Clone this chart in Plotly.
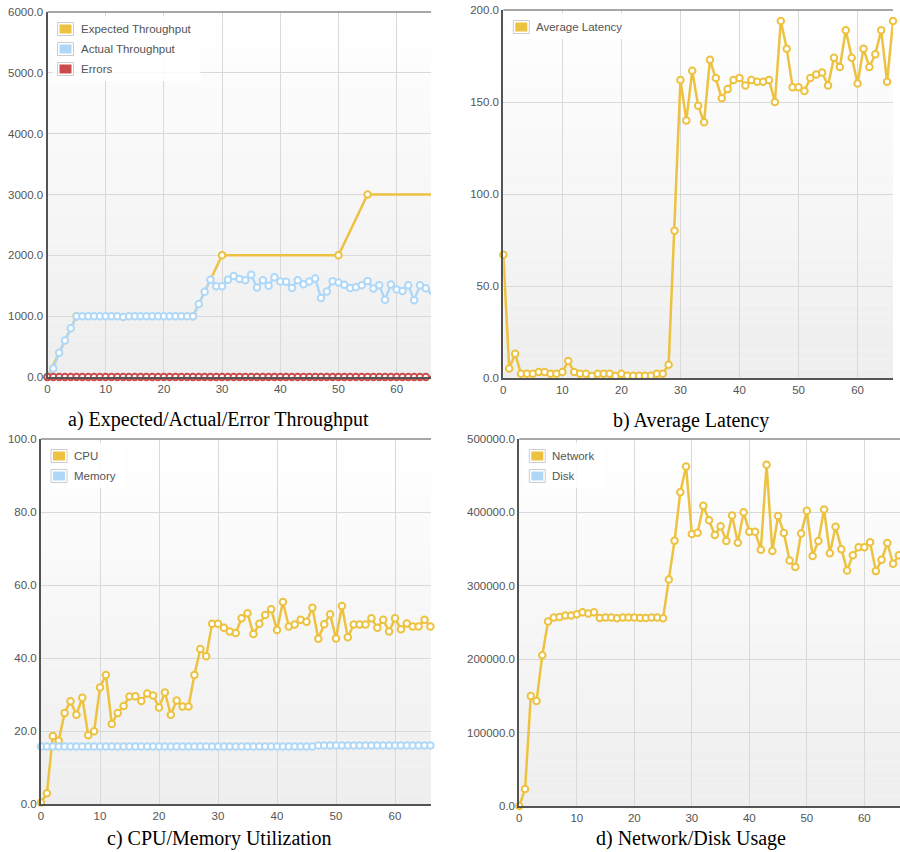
import plotly.graph_objects as go

W, H = 900, 852

# ---------------- data ----------------
t = list(range(67))

exp_x = [0, 5, 25, 30, 50, 55, 66]
exp_y = [0, 1000, 1000, 2000, 2000, 3000, 3000]

actual = [0, 140, 400, 600, 800, 1000,
          1000, 1000, 1000, 1000, 1000, 1000, 1000, 985, 1000, 1000,
          1000, 1000, 1000, 1000, 1000, 1000, 1000, 1000, 1000, 1000,
          1200, 1400, 1600, 1490, 1490, 1600, 1660, 1610, 1590, 1680,
          1470, 1590, 1500, 1640, 1570, 1565, 1465, 1590, 1525, 1570,
          1620, 1300, 1405, 1575, 1555, 1515, 1465, 1475, 1510, 1580,
          1455, 1510, 1270, 1520, 1440, 1415, 1510, 1260, 1510, 1460,
          1360]

errors = [0, 0, 0, 0, 0, 0, 0, 0, 0, 0, 0, 0, 0, 0, 0, 0, 0, 0, 0, 0,
          0, 0, 0, 0, 0, 0, 0, 0, 0, 0, 0, 0, 0, 0, 0, 0, 0, 0, 0, 0,
          0, 0, 0, 0, 0, 0, 0, 0, 0, 0, 0, 0, 0, 0, 0, 0, 0, 0, 0, 0,
          0, 0, 0, 0, 0, 0, 0]

latency = [67, 5.2, 13.2, 2.3, 2.3, 2.3, 3.2, 3.2, 2.3, 2.3,
           3.2, 9.2, 3.2, 2.3, 2.3, 1.1, 2.3, 2.3, 2.3, 1.1,
           2.3, 1.2, 1.2, 1.2, 1.2, 1.2, 2.3, 2.3, 7.2, 80,
           162, 140, 167, 148, 139, 173, 163, 152, 157, 162,
           163, 159, 162, 161, 161, 162, 150, 194, 179, 158,
           158, 156, 163, 165, 166, 159, 174, 169, 189, 174,
           160, 179, 169, 176, 189, 161, 194]

cpu = [0.5, 3, 18.7, 17.4, 25, 28.2, 24.5, 29.2, 18.9, 20,
       32, 35.4, 22, 25, 26.9, 29.5, 29.6, 28.3, 30.3, 29.8,
       26.5, 30.6, 24.5, 28.4, 26.8, 26.8, 35.4, 42.5, 40.5, 49.4,
       49.4, 48.3, 47.3, 46.9, 50.9, 52.3, 46.6, 49.4, 51.8, 53.4,
       47.7, 55.4, 48.7, 49.2, 50.5, 50, 53.8, 45.3, 49.3, 52,
       45.4, 54.3, 45.7, 49.2, 49.2, 49.2, 50.9, 48.3, 50.5, 47.3,
       50.9, 47.9, 49.5, 48.7, 48.7, 50.5, 48.7]

memory = [15.8, 15.8, 15.8, 15.8, 15.8, 15.8, 15.8, 15.8, 15.8, 15.8,
          15.8, 15.8, 15.8, 15.8, 15.8, 15.8, 15.8, 15.8, 15.8, 15.8,
          15.8, 15.8, 15.8, 15.8, 15.8, 15.8, 15.8, 15.8, 15.8, 15.8,
          15.8, 15.8, 15.8, 15.8, 15.8, 15.8, 15.8, 15.8, 15.8, 15.8,
          15.8, 15.8, 15.8, 15.8, 15.8, 15.8, 15.8, 16.1, 16.1, 16.1,
          16.1, 16.1, 16.1, 16.1, 16.1, 16.1, 16.1, 16.1, 16.1, 16.1,
          16.1, 16.1, 16.1, 16.1, 16.1, 16.1, 16.1]

network = [0, 23200, 150000, 143000, 205500, 251300, 256700, 257600, 259500, 259500,
           261300, 264000, 262200, 264000, 256300, 256700, 256700, 255800, 256700, 256700,
           256700, 256300, 256300, 256700, 256700, 255800, 308700, 361500, 427600, 462600,
           370600, 372400, 408900, 389300, 369200, 381100, 361000, 395700, 358800, 400200,
           373800, 373800, 349200, 464900, 347400, 395200, 372000, 334600, 325500, 371100,
           402100, 340500, 361000, 403900, 344200, 380600, 349700, 321000, 341500, 352400,
           352400, 359200, 320000, 335500, 358300, 330100, 341500]

disk = []

captions = ["a) Expected/Actual/Error Throughput", "b) Average Latency",
            "c) CPU/Memory Utilization", "d) Network/Disk Usage"]

# ---------------- style ----------------
YEL, BLU, RED = "#edc240", "#afd8f8", "#cb4b4b"
TICKF = dict(family="Liberation Sans, Arial, sans-serif", size=11.5, color="#545454")
LEGF = dict(family="Liberation Sans, Arial, sans-serif", size=11.5, color="#545454")


def dx(p0, p1):
    return [p0 / W, p1 / W]


def dy(top, bottom):
    return [1 - bottom / H, 1 - top / H]


panels = [
    # suffix, x-dom px, y-dom px (top,bottom), x max, y max, dtick, legend bg width
    ("", dx(47.5, 431), dy(12, 377), 65.9, 6000, 1000, 148),
    ("2", dx(503.3, 893), dy(10, 378), 66.0, 200, 50, 124),
    ("3", dx(41, 431), dy(439, 804.3), 66.1, 100, 20, 78),
    ("4", dx(519.3, 900), dy(439, 806), 66.2, 500000, 100000, 80),
]

# legend entries per panel: (label, colour)
legends = {
    "": [("Expected Throughput", YEL), ("Actual Throughput", BLU), ("Errors", RED)],
    "2": [("Average Latency", YEL)],
    "3": [("CPU", YEL), ("Memory", BLU)],
    "4": [("Network", YEL), ("Disk", BLU)],
}

fig = go.Figure()


def line_trace(x, y, color, name, k):
    return go.Scatter(
        x=x, y=y, name=name, mode="lines+markers", showlegend=False,
        line=dict(color=color, width=2.5),
        marker=dict(symbol="circle", size=6.5, color="white",
                    line=dict(color=color, width=2)),
        cliponaxis=False, xaxis="x" + k, yaxis="y" + k, hoverinfo="x+y+name")


fig.add_trace(line_trace(exp_x, exp_y, YEL, "Expected Throughput", ""))
fig.add_trace(line_trace(t, actual, BLU, "Actual Throughput", ""))
fig.add_trace(line_trace(t, errors, RED, "Errors", ""))
fig.add_trace(line_trace(t, latency, YEL, "Average Latency", "2"))
fig.add_trace(line_trace(t, cpu, YEL, "CPU", "3"))
fig.add_trace(line_trace(t, memory, BLU, "Memory", "3"))
fig.add_trace(line_trace(t, network, YEL, "Network", "4"))
fig.add_trace(line_trace(t, disk, BLU, "Disk", "4"))

layout = dict(
    width=W, height=H, margin=dict(l=0, r=0, t=0, b=0, autoexpand=False),
    paper_bgcolor="white", plot_bgcolor="white", showlegend=False,
)

shapes = []
ann = []
NB = 40
for k, xd, yd, xmax, ymax, dt, bgw in panels:
    xr, yr = "x" + k + " domain", "y" + k + " domain"
    layout["xaxis" + k] = dict(
        domain=xd, range=[0, xmax], anchor="y" + k, dtick=10, tick0=0,
        showgrid=True, gridcolor="#d9d9d9", gridwidth=1, zeroline=False,
        showline=True, linecolor="#545454", linewidth=2, ticks="",
        tickfont=TICKF, fixedrange=True, automargin=False)
    layout["yaxis" + k] = dict(
        domain=yd, range=[0, ymax], anchor="x" + k, dtick=dt, tick0=0,
        tickformat=".1f", showgrid=True, gridcolor="#d9d9d9", gridwidth=1,
        zeroline=False, showline=True, linecolor="#545454", linewidth=2,
        ticks="", tickfont=TICKF, fixedrange=True, automargin=False)
    # vertical gradient background (white top -> #eee bottom)
    for i in range(NB):
        f = (i + 0.5) / NB
        v = int(round(238 + (255 - 238) * f))
        shapes.append(dict(
            type="rect", xref=xr, yref=yr, x0=0, x1=1, y0=i / NB, y1=(i + 1) / NB,
            layer="below", fillcolor=f"rgb({v},{v},{v})", line=dict(width=0)))
    # top border
    shapes.append(dict(type="line", xref=xr, yref=yr, x0=0, x1=1, y0=1, y1=1,
                       layer="above", line=dict(color="#8a8a8a", width=1.5)))

    # legend box (pixel-positioned from the plot area's top-left corner)
    items = legends[k]
    n = len(items)
    shapes.append(dict(
        type="rect", xref=xr, yref=yr, xsizemode="pixel", ysizemode="pixel",
        xanchor=0, yanchor=1, x0=5, x1=5 + bgw, y0=-4, y1=-(17 + 20 * (n - 1) + 12),
        layer="above", fillcolor="rgba(255,255,255,0.85)", line=dict(width=0)))
    for i, (lab, col) in enumerate(items):
        cy = 17 + 20 * i
        shapes.append(dict(
            type="rect", xref=xr, yref=yr, xsizemode="pixel", ysizemode="pixel",
            xanchor=0, yanchor=1, x0=10, x1=26, y0=-(cy - 6.5), y1=-(cy + 6.5),
            layer="above", fillcolor="white", line=dict(color="#cccccc", width=1)))
        shapes.append(dict(
            type="rect", xref=xr, yref=yr, xsizemode="pixel", ysizemode="pixel",
            xanchor=0, yanchor=1, x0=12, x1=24, y0=-(cy - 4.5), y1=-(cy + 4.5),
            layer="above", fillcolor=col, line=dict(width=0)))
        ann.append(dict(
            text=lab, xref=xr, yref=yr, x=0, y=1, xshift=32, yshift=-cy,
            xanchor="left", yanchor="middle", showarrow=False, borderpad=0,
            font=LEGF))

layout["shapes"] = shapes

cap_pos = [(218, 419), (691, 420), (219, 838), (691, 838)]
for text, (cx, cy) in zip(captions, cap_pos):
    ann.append(dict(text=text, xref="paper", yref="paper", x=cx / W, y=1 - cy / H,
                    xanchor="center", yanchor="middle", showarrow=False,
                    font=dict(family="Liberation Serif, Times New Roman, serif",
                              size=20, color="black")))
layout["annotations"] = ann

fig.update_layout(**layout)
fig.write_html("out.html", config={"displayModeBar": False},
               post_script="document.body.style.margin='0px';"
                           "document.body.style.overflow='hidden';")
